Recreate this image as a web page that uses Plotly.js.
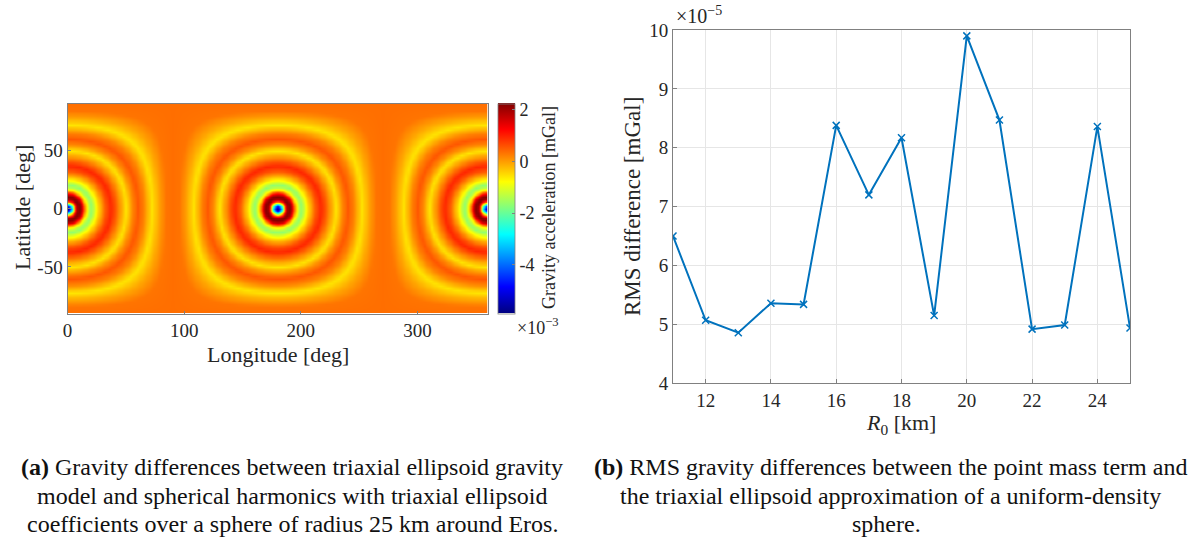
<!DOCTYPE html>
<html>
<head>
<meta charset="utf-8">
<script src="https://cdn.plot.ly/plotly-3.0.1.min.js"></script>
<style>
  html, body { margin: 0; padding: 0; background: #fff; }
  #chart { width: 1200px; height: 539px; }
</style>
</head>
<body>
<div id="chart"></div>
<script>
// ---------- Panel (a): gravity difference map ----------
// Radial profile of the field (angular distance from the long-axis point, deg)
// values in units of 1e-3 mGal
const profileDeg = [0, 2, 4, 6, 8, 9.5, 11, 13, 15.5, 18, 20.5, 23, 25.5, 29, 33, 37, 41, 45, 50, 55, 60, 65, 72, 78, 84, 90];
const profileVal = [-5.9, -4.8, -2.6, 0.3, 1.9, 2.25, 2.1, 1.3, -0.4, -1.3, -1.7, -1.1, -0.6, 0.0, 0.6, 0.95, 0.5, 0.0, -0.6, 0.1, 0.55, 0.2, -0.6, -0.1, 0.3, 0.35];
const lonTicks = [0, 100, 200, 300];
const latTicks = [-50, 0, 50];
const latTickText = ['-50', '0', '50'];
const cbTicks = [2, 0, -2, -4];
const cbTickText = ['2', '0', '-2', '-4'];
const lonStep = 2, latStep = 2;

// ---------- Panel (b): RMS differences ----------
const R0 = [11, 12, 13, 14, 15, 16, 17, 18, 19, 20, 21, 22, 23, 24, 25];
const rmsDiff = [6.5, 5.07, 4.86, 5.36, 5.34, 8.38, 7.2, 8.17, 5.15, 9.9, 8.47, 4.92, 4.99, 8.36, 4.94]; // x 1e-5 mGal
const r0Ticks = [12, 14, 16, 18, 20, 22, 24];
const rmsTicks = [4, 5, 6, 7, 8, 9, 10];

// build grid from the profile
function profile(d) {
  for (let i = 1; i < profileDeg.length; i++) {
    if (d <= profileDeg[i]) {
      const t = (d - profileDeg[i-1]) / (profileDeg[i] - profileDeg[i-1]);
      return profileVal[i-1] + t * (profileVal[i] - profileVal[i-1]);
    }
  }
  return profileVal[profileVal.length - 1];
}
const lon = [], lat = [];
for (let v = 0; v <= 360; v += lonStep) lon.push(v);
for (let v = -90; v <= 90; v += latStep) lat.push(v);
const rad = Math.PI / 180;
const z = lat.map(la => lon.map(lo => {
  const c = Math.abs(Math.cos(la * rad) * Math.cos(lo * rad));
  const d = Math.acos(Math.min(1, c)) / rad;
  return profile(d);
}));

const jet = [
  [0, 'rgb(0,0,128)'], [0.125, 'rgb(0,0,255)'], [0.375, 'rgb(0,255,255)'],
  [0.625, 'rgb(255,255,0)'], [0.875, 'rgb(255,0,0)'], [1, 'rgb(128,0,0)']
];

const serif = '"Liberation Serif", "DejaVu Serif", serif';
const axisCol = 'rgb(128,128,128)';
const txtCol = '#262626';

const traces = [
  {
    type: 'heatmap', x: lon, y: lat, z: z, xaxis: 'x', yaxis: 'y',
    colorscale: jet, zmin: -5.9, zmax: 2.25, zsmooth: 'best',
    hoverinfo: 'skip',
    colorbar: {
      x: 498 / 1200, xanchor: 'left', xref: 'paper',
      y: (539 - 313.5) / 539, yanchor: 'bottom', yref: 'paper',
      len: (313.5 - 104) / 539, lenmode: 'fraction',
      thickness: 17, thicknessmode: 'pixels',
      outlinewidth: 0.8, outlinecolor: axisCol,
      tickmode: 'array', tickvals: cbTicks, ticktext: cbTickText,
      ticks: 'inside', ticklen: 3, tickcolor: axisCol,
      tickfont: { family: serif, size: 18, color: txtCol },
      ypad: 0, xpad: 0
    }
  },
  {
    type: 'scatter', mode: 'lines+markers', x: R0, y: rmsDiff,
    xaxis: 'x2', yaxis: 'y2',
    line: { color: '#0072BD', width: 2 },
    marker: { symbol: 'x-thin-open', size: 7, color: '#0072BD', line: { color: '#0072BD', width: 1.5 } },
    hoverinfo: 'skip'
  }
];

function txt(text, xc, yc, size, angle) {
  return { text: text, xref: 'paper', yref: 'paper', x: xc / 1200, y: 1 - yc / 539,
    xanchor: 'center', yanchor: 'middle', showarrow: false, textangle: angle || 0,
    font: { family: serif, size: size, color: txtCol } };
}
function cap(text, xc, yc) {
  const a = txt(text, xc, yc, 24, 0);
  a.font.color = '#111';
  return a;
}

const annotations = [
  cap('<b>(a)</b> Gravity differences between triaxial ellipsoid gravity', 292, 467),
  cap('model and spherical harmonics with triaxial ellipsoid', 292, 496),
  cap('coefficients over a sphere of radius 25 km around Eros.', 292, 524),
  cap('<b>(b)</b> RMS gravity differences between the point mass term and', 890, 467),
  cap('the triaxial ellipsoid approximation of a uniform-density', 890, 496),
  cap('sphere.', 886, 524),
  txt('Gravity acceleration [mGal]', 549, 208, 18, -90),
  txt('×10<sup>−3</sup>', 538, 326, 18),
  txt('×10<sup>−5</sup>', 699, 15, 20),
  txt('Longitude [deg]', 278, 354, 22),
  txt('Latitude [deg]', 22, 208, 22, -90),
  txt('<i>R</i><sub>0</sub> [km]', 901, 424, 22),
  txt('RMS difference [mGal]', 632, 206, 23, -90)
];

const layout = {
  width: 1200, height: 539,
  margin: { l: 0, r: 0, t: 0, b: 0 },
  paper_bgcolor: '#fff', plot_bgcolor: '#fff',
  showlegend: false,
  font: { family: serif },
  xaxis: {
    domain: [67.5 / 1200, 487.5 / 1200], range: [0, 360], anchor: 'y',
    tickmode: 'array', tickvals: lonTicks,
    ticks: 'inside', ticklen: 3, tickcolor: axisCol,
    showline: true, mirror: true, linecolor: axisCol, linewidth: 1,
    showgrid: false, zeroline: false,
    tickfont: { family: serif, size: 19, color: txtCol }
  },
  yaxis: {
    domain: [(539 - 313.5) / 539, (539 - 104) / 539], range: [-90, 90], anchor: 'x',
    tickmode: 'array', tickvals: latTicks, ticktext: latTickText,
    ticks: 'inside', ticklen: 3, tickcolor: axisCol,
    showline: true, mirror: true, linecolor: axisCol, linewidth: 1,
    showgrid: false, zeroline: false,
    tickfont: { family: serif, size: 19, color: txtCol }
  },
  xaxis2: {
    domain: [673 / 1200, 1130 / 1200], range: [11, 25], anchor: 'y2',
    tickmode: 'array', tickvals: r0Ticks,
    ticks: 'inside', ticklen: 4, tickcolor: axisCol,
    showline: true, mirror: true, linecolor: axisCol, linewidth: 1,
    showgrid: true, gridcolor: 'rgb(230,230,230)', gridwidth: 1, zeroline: false,
    tickfont: { family: serif, size: 19, color: txtCol }
  },
  yaxis2: {
    domain: [(539 - 383.3) / 539, (539 - 30) / 539], range: [4, 10], anchor: 'x2',
    tickmode: 'array', tickvals: rmsTicks,
    ticks: 'inside', ticklen: 4, tickcolor: axisCol,
    showline: true, mirror: true, linecolor: axisCol, linewidth: 1,
    showgrid: true, gridcolor: 'rgb(230,230,230)', gridwidth: 1, zeroline: false,
    tickfont: { family: serif, size: 19, color: txtCol }
  },
  annotations: annotations
};

Plotly.newPlot('chart', traces, layout, { displayModeBar: false, staticPlot: true });
</script>
</body>
</html>
